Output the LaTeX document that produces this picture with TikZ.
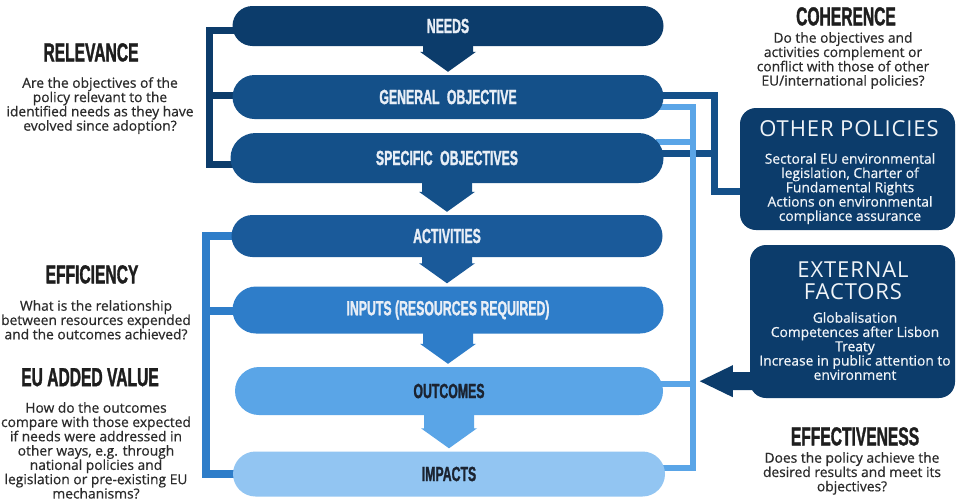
\documentclass[tikz,border=0pt]{standalone}
\usepackage{fontspec}
\setmainfont{Open Sans}[UprightFeatures={FakeBold=0.6}]
\newfontfamily\boxfont{Open Sans}
\newfontfamily\condfont[FakeStretch=0.6, BoldFeatures={FakeBold=1.2}]{Liberation Sans}
\usetikzlibrary{shapes.misc,calc,backgrounds}
\definecolor{cNavy}{HTML}{0C3C6B}
\definecolor{cGen}{HTML}{145089}
\definecolor{cAct}{HTML}{1A5A9A}
\definecolor{cInp}{HTML}{2E7DC9}
\definecolor{cOut}{HTML}{5AA5E7}
\definecolor{cImp}{HTML}{92C5F2}
\definecolor{cTxt}{HTML}{2B2B2B}
\definecolor{cHead}{HTML}{1E1E1E}
\definecolor{cPillTxt}{HTML}{E8EEF6}
\definecolor{cDarkTxt}{HTML}{1B2330}
\definecolor{cBoxTxt}{HTML}{F0F4F8}
\newcommand\flowarrow[3]{%
  \fill[#3] ($(#1.south)+(-25,-2)$) -- ($(#1.south)+(25,-2)$)
    -- ($(#1.south |- #2.north)+(25,-23)$) -- ($(#1.south |- #2.north)+(28,-23)$)
    -- ($(#1.south |- #2.north)+(0,-3)$) -- ($(#1.south |- #2.north)+(-28,-23)$)
    -- ($(#1.south |- #2.north)+(-25,-23)$) -- cycle;}
\tikzset{
  pill/.style={rounded rectangle, fill=#1, minimum width=431pt, inner sep=0pt,
    font=\condfont\bfseries\fontsize{20.5}{22}\selectfont, text=cPillTxt},
  conn/.style={draw=#1, line width=7pt, line join=miter},
  infobox/.style={fill=cNavy, rounded corners=16pt, inner sep=0pt},
  heading/.style={anchor=north, inner sep=0pt, text=cHead,
    font=\condfont\bfseries\fontsize{26}{28}\selectfont},
  bodytext/.style={anchor=north, inner sep=0pt, align=center, text=cTxt,
    font=\fontsize{13.8}{14.3}\selectfont},
  boxbody/.style={bodytext, text=cBoxTxt},
  boxtitle/.style={anchor=north, inner sep=0pt, align=center, text=cBoxTxt,
    font=\boxfont\addfontfeatures{LetterSpace=4}\fontsize{22}{21.5}\selectfont},
}
\begin{document}
\begin{tikzpicture}[x=1pt,y=-1pt]
\useasboundingbox (0,0) rectangle (956,501);

% pills
\node[pill=cNavy, minimum height=40pt] (needs) at (448,26) {NEEDS};
\node[pill=cGen, minimum height=44pt] (genobj) at (448,97) {GENERAL\hspace{4pt} OBJECTIVE};
\node[pill=cGen, minimum height=50pt, minimum width=433pt] (specobj) at (447,158) {SPECIFIC\hspace{4pt} OBJECTIVES};
\node[pill=cAct, minimum height=42pt] (activ) at (447,236) {ACTIVITIES};
\node[pill=cInp, minimum height=47pt] (inputs) at (448,310) {INPUTS (RESOURCES REQUIRED)};
\node[pill=cOut, minimum height=48pt, minimum width=428pt, text=cDarkTxt] (outc) at (449,391) {OUTCOMES};
\node[pill=cImp, minimum height=45pt, minimum width=432pt, text=cDarkTxt] (impacts) at (449,474) {IMPACTS};

% boxes
\node[infobox, minimum width=215pt, minimum height=122pt] (otherpol) at (847.5,169) {};
\node[infobox, minimum width=205pt, minimum height=153pt] (extbox) at (852.5,321.5) {};
\fill[cNavy] ($(extbox.south west)+(10,-26)$) -- ($(extbox.south west)+(-17,-26)$)
  -- ($(extbox.south west)+(-17,-33)$) -- ($(extbox.south west)+(-50,-17)$)
  -- ($(extbox.south west)+(-17,-1)$) -- ($(extbox.south west)+(-17,-8)$)
  -- ($(extbox.south west)+(10,-8)$) -- cycle;

% flow arrows
\flowarrow{needs}{genobj}{cNavy}
\flowarrow{specobj}{activ}{cGen}
\flowarrow{activ}{inputs}{cAct}
\flowarrow{inputs}{outc}{cInp}
\flowarrow{outc}{impacts}{cOut}

% connectors
\begin{scope}[on background layer]
  \fill[white] (0,0) rectangle (956,501);
  \coordinate (lbA) at (209,30);
  \coordinate (lbM) at (209,95);
  \coordinate (lbB) at (209,164);
  \draw[conn=cNavy] ($(needs.west)+(8,4)$) -- (lbA) -- (lbB) -- ($(specobj.west)+(8,6)$);
  \draw[conn=cNavy] (lbM) -- ($(genobj.west)+(8,-2)$);
  \coordinate (mbA) at (206,236);
  \coordinate (mbM) at (206,311);
  \coordinate (mbB) at (206,474);
  \draw[conn=cInp, line width=7.5pt] ($(activ.west)+(8,0)$) -- (mbA) -- (mbB) -- ($(impacts.west)+(8,0)$);
  \draw[conn=cInp, line width=7.5pt] (mbM) -- ($(inputs.west)+(8,1)$);
  \coordinate (rdA) at (714,95);
  \coordinate (rdS) at (714,153);
  \coordinate (rdB) at (714,191);
  \draw[conn=cGen] ($(genobj.east)+(-8,-2)$) -- (rdA) -- (rdB) -- ($(otherpol.west)+(8,22)$);
  \draw[conn=cGen] ($(specobj.east)+(-8,-5)$) -- (rdS);
  \coordinate (rlA) at (693,107);
  \coordinate (rlS) at (693,142);
  \coordinate (rlO) at (693,384);
  \coordinate (rlB) at (693,468);
  \draw[conn=cOut, line width=6.5pt] ($(genobj.east)+(-8,10)$) -- (rlA) -- (rlB) -- ($(impacts.east)+(-8,-6)$);
  \draw[conn=cOut, line width=6.5pt] ($(specobj.east)+(-8,-16)$) -- (rlS);
  \draw[conn=cOut, line width=6.5pt] ($(outc.east)+(-8,-7)$) -- (rlO);
\end{scope}

% left texts
\node[heading] (relh) at (91,43) {RELEVANCE};
\node[bodytext] (relb) at (100,77) {Are the objectives of the\\policy relevant to the\\identified needs as they have\\evolved since adoption?};
\node[heading] (effh) at (92,265) {EFFICIENCY};
\node[bodytext] (effb) at (96,300) {What is the relationship\\between resources expended\\and the outcomes achieved?};
\node[heading] (euh) at (90,368) {EU ADDED VALUE};
\node[bodytext] (eub) at (96,402) {How do the outcomes\\compare with those expected\\if needs were addressed in\\other ways, e.g. through\\national policies and\\legislation or pre-existing EU\\mechanisms?};

% right texts
\node[heading] (cohh) at (846,7) {COHERENCE};
\node[bodytext] (cohb) at (843,32) {Do the objectives and\\activities complement or\\conflict with those of other\\EU/international policies?};
\node[boxtitle] (opt) at (849,120) {OTHER POLICIES};
\node[boxbody] (opb) at (850,153) {Sectoral EU environmental\\legislation, Charter of\\Fundamental Rights\\Actions on environmental\\compliance assurance};
\node[boxtitle] (extt) at (853,262) {EXTERNAL\\FACTORS};
\node[boxbody] (extb) at (855,312) {Globalisation\\Competences after Lisbon\\Treaty\\Increase in public attention to\\environment};
\node[heading] (effth) at (855,427) {EFFECTIVENESS};
\node[bodytext] (efftb) at (852,452) {Does the policy achieve the\\desired results and meet its\\objectives?};
\end{tikzpicture}
\end{document}
